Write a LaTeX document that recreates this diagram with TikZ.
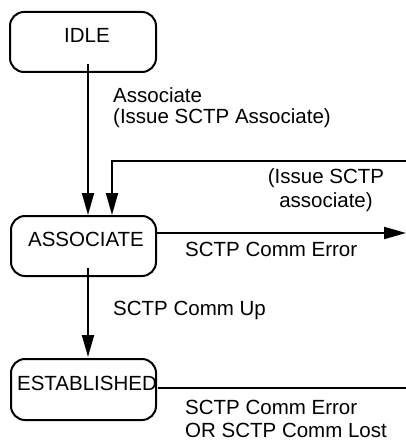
\documentclass[tikz,border=0pt]{standalone}
\usepackage{fontspec}
\setmainfont{Liberation Sans}
\usetikzlibrary{arrows.meta}
\begin{document}
\begin{tikzpicture}[x=1pt,y=-1pt,
  statebox/.style={draw, line width=2pt, rounded corners=14pt, inner sep=0pt, anchor=north west},
  txt/.style={font=\fontsize{20.5}{23.5}\selectfont, inner sep=0pt},
  conn/.style={line width=2pt},
  arr/.style={conn, -{Triangle[length=22pt,width=12pt]}}]
\useasboundingbox (0,0) rectangle (406,441);
% states
\node[statebox, minimum width=146pt, minimum height=60pt] (idle) at (9,11) {};
\node[txt] (idlet) at (87,35) {IDLE};
\node[statebox, minimum width=145pt, minimum height=60pt] (assoc) at (10,215) {};
\node[txt] (assoct) at (86,239) {ASSOCIATE};
\node[statebox, minimum width=145pt, minimum height=61pt] (estab) at (10,358) {};
\node[txt] (estabt) at (87,383) {ESTABLISHED};
% free ends
\coordinate (s1) at (88,64);
\coordinate (t1) at (88,215);
\coordinate (r1) at (406,161);
\coordinate (t2) at (112,215);
\coordinate (r2) at (406,233);
\coordinate (s3) at (88,268);
\coordinate (t3) at (88,357);
\coordinate (r3) at (406,388);
% connectors
\draw[arr] (s1) -- (t1);
\draw[arr] (r1) -| (t2);
\draw[arr] (assoc.east |- r2) -- (r2);
\draw[arr] (s3) -- (t3);
\draw[conn] (158,388) -- (r3);
% labels
\node[txt, anchor=west] (l1) at (113,95) {Associate};
\node[txt, anchor=west] (l2) at (113,118.5) {(Issue SCTP Associate)};
\node[txt, align=center] (l3) at (326,190) {(Issue SCTP\\associate)};
\node[txt, anchor=west] (l4) at (185,249.5) {SCTP Comm Error};
\node[txt, anchor=west] (l5) at (113,310) {SCTP Comm Up};
\node[txt, anchor=west] (l6) at (185,407) {SCTP Comm Error};
\node[txt, anchor=west] (l7) at (185,430) {OR SCTP Comm Lost};
\end{tikzpicture}
\end{document}
